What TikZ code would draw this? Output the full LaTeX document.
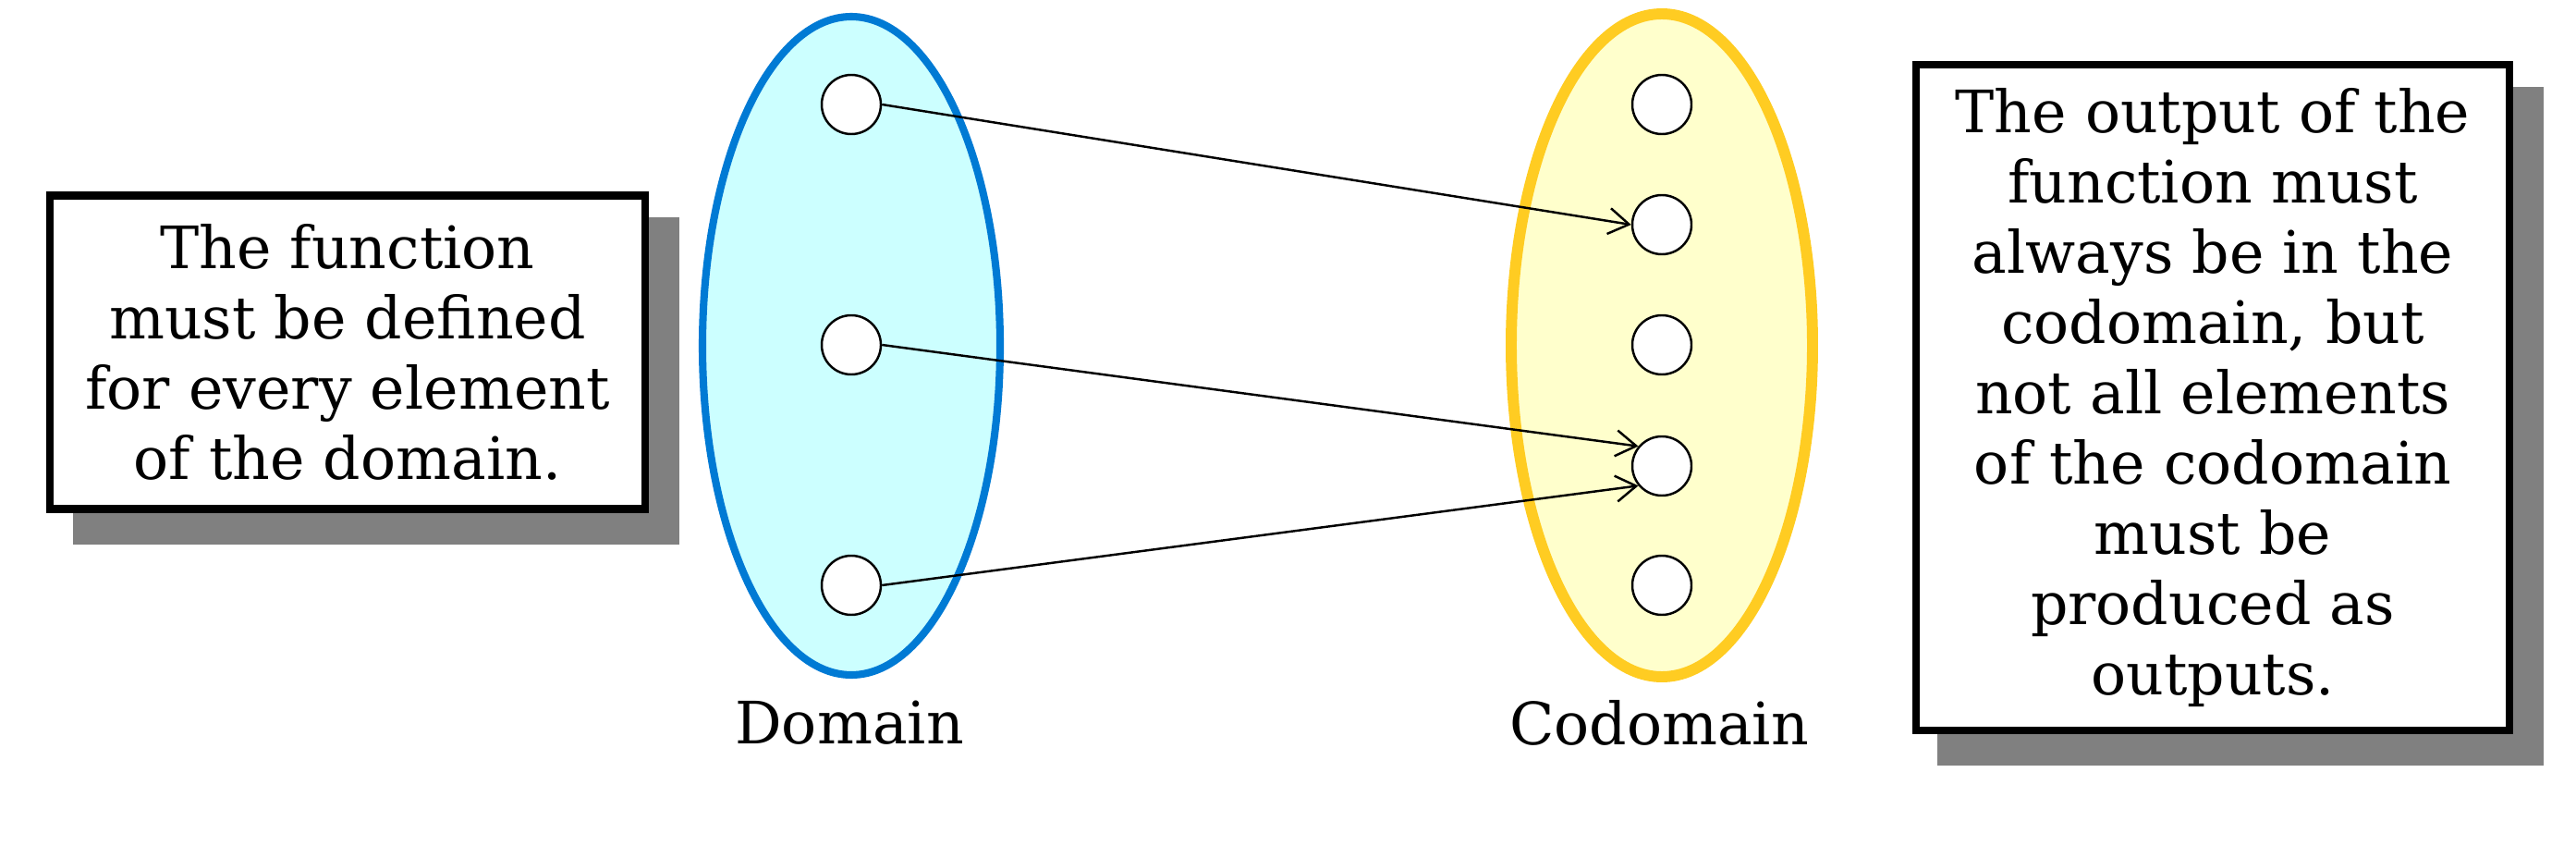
\documentclass[tikz,border=0pt]{standalone}
\usepackage{fontspec}
\setmainfont{DejaVu Serif}
\usetikzlibrary{shapes.geometric,arrows.meta,backgrounds}
\definecolor{domfill}{RGB}{204,255,255}
\definecolor{domline}{RGB}{0,122,212}
\definecolor{codfill}{RGB}{255,255,204}
\definecolor{codline}{RGB}{255,204,34}
\definecolor{shadowgray}{RGB}{128,128,128}
\begin{document}
\begin{tikzpicture}[
  elem/.style={circle, draw=black, fill=white, line width=0.7pt, minimum size=0.64cm, inner sep=0pt},
  setshape/.style={ellipse, inner sep=0pt},
  note/.style={draw=black, fill=white, line width=2.3pt, align=center, inner sep=0pt, font=\fontsize{18}{21.6}\selectfont},
  setname/.style={font=\fontsize{18}{21.6}\selectfont},
  maparrow/.style={-{Straight Barb[length=2.2mm,width=2.8mm]}, line width=0.7pt},
  boxshadow/.style={fill=shadowgray}
]
\useasboundingbox (0,0) rectangle (27.87,-9.15);

% sets
\node[setshape, draw=domline, fill=domfill, line width=2.3pt, minimum width=3.22cm, minimum height=7.12cm] (dom) at (9.21,-3.74) {};
\node[setshape, draw=codline, fill=codfill, line width=3.4pt, minimum width=3.26cm, minimum height=7.17cm] (cod) at (17.98,-3.735) {};

% elements
\node[elem] (d1) at (9.21,-1.13) {};
\node[elem] (d2) at (9.21,-3.73) {};
\node[elem] (d3) at (9.21,-6.33) {};
\node[elem] (c1) at (17.98,-1.13) {};
\node[elem] (c2) at (17.98,-2.43) {};
\node[elem] (c3) at (17.98,-3.73) {};
\node[elem] (c4) at (17.98,-5.04) {};
\node[elem] (c5) at (17.98,-6.33) {};

% mapping
\draw[maparrow] (d1.east) -- (c2.west);
\draw[maparrow] (d2.east) -- (c4.140);
\draw[maparrow] (d3.east) -- (c4.220);

% set names
\node[setname] (domlabel) at (9.19,-7.82) {Domain};
\node[setname] (codlabel) at (17.95,-7.82) {Codomain};

% notes
\node[note, minimum width=6.44cm, minimum height=3.39cm] (lbox) at (3.76,-3.81)
  {The function\\must be defined\\for every element\\of the domain.};
\node[note, minimum width=6.42cm, minimum height=7.20cm] (rbox) at (23.94,-4.30)
  {The output of the\\function must\\always be in the\\codomain, but\\not all elements\\of the codomain\\must be\\produced as\\outputs.};

\begin{scope}[on background layer]
  \fill[boxshadow] ([shift={(0.29,-0.28)}]lbox.north west) rectangle ([shift={(0.33,-0.34)}]lbox.south east);
  \fill[boxshadow] ([shift={(0.27,-0.28)}]rbox.north west) rectangle ([shift={(0.33,-0.34)}]rbox.south east);
\end{scope}
\end{tikzpicture}
\end{document}
